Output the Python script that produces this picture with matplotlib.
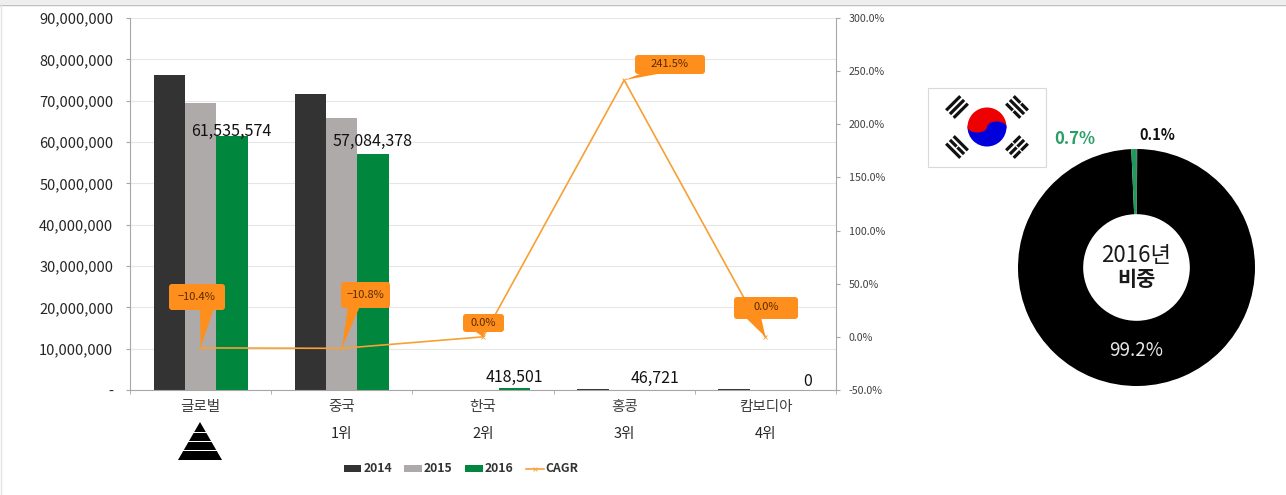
import numpy as np
import matplotlib
matplotlib.use("Agg")
import matplotlib.pyplot as plt
from matplotlib.patches import FancyBboxPatch, Polygon, Rectangle, Wedge, Ellipse
from matplotlib.ticker import FuncFormatter
from matplotlib.transforms import Affine2D

plt.rcParams['font.family'] = ['Noto Sans CJK KR', 'DejaVu Sans']

W, H = 1286, 495

categories = ['글로벌', '중국', '한국', '홍콩', '캄보디아']
ranks = ['', '1위', '2위', '3위', '4위']
values_2014 = [76200000, 71600000, 0, 150000, 150000]
values_2015 = [69400000, 65800000, 0, 60000, 0]
values_2016 = [61535574, 57084378, 418501, 46721, 0]
cagr = [-10.4, -10.8, 0.0, 241.5, 0.0]

bar_labels = ['61,535,574', '57,084,378', '418,501', '46,721', '0']
share_values = [0.1, 99.2, 0.7]
share_labels = ['0.1%', '99.2%', '0.7%']

DARK = '#333333'
GRAY = '#aeaaaa'
GREEN = '#00863d'
ORANGE = '#ff8f1c'
LINE = '#f7a035'
TEXT = '#262626'
AXIS = '#a6a6a6'


def px_axes(fig):
    """Оверлей в пикселях картинки (y вниз)."""
    ov = fig.add_axes([0, 0, 1, 1], zorder=5)
    ov.set_xlim(0, W)
    ov.set_ylim(H, 0)
    ov.axis('off')
    ov.patch.set_alpha(0)
    return ov


def callout(ov, x0, y0, x1, y1, base0, base1, tip, text):
    """Выноска: скруглённый прямоугольник и хвост к точке."""
    ov.add_patch(Polygon([base0, base1, tip], closed=True, fc=ORANGE, ec='none', zorder=6))
    ov.add_patch(FancyBboxPatch((x0 + 3, y0 + 3), x1 - x0 - 6, y1 - y0 - 6,
                                boxstyle='round,pad=3,rounding_size=3', fc=ORANGE, ec='none', zorder=6))
    ov.text((x0 + x1) / 2, (y0 + y1) / 2 - 0.5, text, fontsize=8, color='#5a2a00',
            ha='center', va='center', zorder=7)


def flag(ov):
    ov.add_patch(Rectangle((928, 88), 118, 79, fc='white', ec='#d9d9d9', lw=0.8))
    cx, cy, r = 987, 127, 19.5
    ov.add_patch(Wedge((cx, cy), r, 180, 360, fc='#ee0000', ec='none', zorder=3))
    ov.add_patch(Wedge((cx, cy), r, 0, 180, fc='#0000dd', ec='none', zorder=3))
    ov.add_patch(Ellipse((cx - r / 2, cy), r, 11, fc='#ee0000', ec='none', zorder=4))
    ov.add_patch(Ellipse((cx + r / 2, cy), r, 11, fc='#0000dd', ec='none', zorder=4))
    # сплошные и разорванные полосы по углам флага
    groups = [(-1, -1, [0, 0, 0]), (1, -1, [1, 0, 1]), (-1, 1, [0, 1, 0]), (1, 1, [1, 1, 1])]
    for sx, sy, broken in groups:
        bx, by = cx + sx * 30, cy + sy * 20
        ang = 45 if sx * sy > 0 else -45
        tr = Affine2D().rotate_deg_around(bx, by, ang) + ov.transData
        for k, b in zip([-5.3, 0, 5.3], broken):
            ov.add_patch(Rectangle((bx + k - 1.6, by - 10), 3.2, 20, fc='#111111', ec='none',
                                   transform=tr))
            if b:
                ov.add_patch(Rectangle((bx + k - 2, by - 0.6), 4, 1.2, fc='white', ec='none',
                                       transform=tr, zorder=2))


def pyramid(ov):
    cx, top, bottom, half = 200, 422, 460, 22
    ov.add_patch(Polygon([(cx, top), (cx + half, bottom), (cx - half, bottom)], fc='black', ec='none'))
    for y in [431.5, 441, 450]:
        ov.add_patch(Rectangle((cx - half, y), 2 * half, 1.2, fc='white', ec='none'))


def main():
    fig = plt.figure(figsize=(W / 100, H / 100), dpi=100)

    ax = fig.add_axes([130 / W, 1 - 390 / H, (836 - 130) / W, (390 - 18) / H])
    x = np.arange(len(categories))
    width = 0.222
    ax.bar(x - width, values_2014, width, color=DARK, label='2014', zorder=2)
    ax.bar(x, values_2015, width, color=GRAY, label='2015', zorder=2)
    ax.bar(x + width, values_2016, width, color=GREEN, label='2016', zorder=2)
    ax.set_xlim(-0.5, 4.5)
    ax.set_ylim(0, 90000000)
    ax.set_yticks(np.arange(0, 90000001, 10000000))
    ax.yaxis.set_major_formatter(FuncFormatter(lambda v, p: '-' if v == 0 else f'{int(v):,}'))
    ax.grid(axis='y', color='#e6e6e6', lw=0.8, zorder=0)
    ax.set_axisbelow(True)
    ax.tick_params(axis='y', labelsize=10.5, labelcolor=TEXT, color=AXIS, length=3, pad=9)
    ax.set_xticks(x)
    ax.set_xticklabels(categories, fontsize=10.5, color='#404040')
    ax.set_xticks(np.arange(-0.5, 5), minor=True)
    ax.tick_params(axis='x', which='minor', length=3, color=AXIS)
    ax.tick_params(axis='x', which='major', length=0, pad=7)
    for s in ['top', 'right']:
        ax.spines[s].set_visible(False)
    for s in ['left', 'bottom']:
        ax.spines[s].set_color(AXIS)

    # центр подписи над столбцом: сдвиг по x (в категориях), по y (пункты от вершины)
    label_dx = [0.22, 0.22, 0.22, 0.22, 0.3]
    label_dy = [-3, 3, 2, 2, 0]
    for i, txt in enumerate(bar_labels):
        ax.annotate(txt, (x[i] + label_dx[i], values_2016[i]), xytext=(0, label_dy[i]),
                    textcoords='offset points', ha='center', va='bottom', fontsize=11.5,
                    fontweight='medium', color='#111111', zorder=8)

    ax2 = ax.twinx()
    ax2.set_ylim(-50, 300)
    ax2.set_yticks(np.arange(-50, 301, 50))
    ax2.yaxis.set_major_formatter(FuncFormatter(lambda v, p: f'{v:.1f}%'))
    ax2.tick_params(axis='y', labelsize=7.7, labelcolor='#404040', color=AXIS, length=3, pad=6)
    line, = ax2.plot(x, cagr, color=LINE, lw=1.2, marker='x', ms=3, mew=0.6, label='CAGR', zorder=4)
    for s in ['top', 'left', 'bottom']:
        ax2.spines[s].set_visible(False)
    ax2.spines['right'].set_color(AXIS)

    h1, l1 = ax.get_legend_handles_labels()
    leg = fig.legend(h1 + [line], l1 + ['CAGR'], loc='center', bbox_to_anchor=(461 / W, 1 - 469 / H), ncol=4,
                     frameon=False, handlelength=1.47, handleheight=0.5, handletextpad=0.15, columnspacing=1.0,
                     prop={'size': 8.8, 'weight': 'bold'})
    for t in leg.get_texts():
        t.set_color('#333333')

    ov = px_axes(fig)
    # верхняя и левая кромка скриншота
    ov.add_patch(Rectangle((0, 0), W, 4, fc='#eeeeee', ec='none'))
    ov.plot([0, W], [4.5, 4.5], color='#bdbdbd', lw=1)
    ov.plot([0.5, 0.5], [4, H], color='#e3e3e3', lw=1)

    for i, r in enumerate(ranks):
        if r:
            ax.annotate(r, (x[i], 0), xytext=(0, -32), textcoords='offset points', ha='center', va='center',
                        fontsize=10.5, color=TEXT, annotation_clip=False)

    def tip(i):
        p = ax2.transData.transform((x[i], cagr[i]))
        return p[0], H - p[1]

    callout(ov, 169, 284, 225, 310, (200, 308), (214, 308), tip(0), f'−{abs(cagr[0])}%')
    callout(ov, 341, 282, 390, 308, (348, 306), (360, 306), tip(1), f'−{abs(cagr[1])}%')
    callout(ov, 463, 314, 504, 332, (473, 330), (485, 330), tip(2), f'{cagr[2]}%')
    callout(ov, 635, 55, 705, 74, (650, 70), (663, 73), tip(3), f'{cagr[3]}%')
    callout(ov, 734, 297, 798, 319, (745, 317), (761, 317), tip(4), f'{cagr[4]}%')

    pyramid(ov)
    flag(ov)

    # кольцевая диаграмма
    cx, cy, r = 1136.5, 267.5, 118.5
    pie = fig.add_axes([(cx - r) / W, 1 - (cy + r) / H, 2 * r / W, 2 * r / H], zorder=4)
    pie.pie(share_values, colors=['black', 'black', '#1f9a5c'], startangle=90, counterclock=False, radius=1,
            wedgeprops={'width': 0.55, 'edgecolor': 'none'})
    pie.set_xlim(-1, 1)
    pie.set_ylim(-1, 1)

    ov.text(1136.5, 256, '2016년', fontsize=16, fontweight='medium', color='#1a1a1a', ha='center', va='center', zorder=7)
    ov.text(1136.5, 280, '비중', fontsize=15, fontweight='bold', color='#1a1a1a', ha='center', va='center', zorder=7)
    ov.text(1136.5, 351, share_labels[1], fontsize=13.5, color='#e6e6e6', ha='center', va='center', zorder=7)
    ov.text(1075, 139, share_labels[2], fontsize=12, fontweight='bold', color='#2a9d68', ha='center', va='center')
    ov.text(1157, 135, share_labels[0], fontsize=10.5, fontweight='bold', color='#111111', ha='center', va='center')

    fig.savefig('out.png', dpi=100)


main()
